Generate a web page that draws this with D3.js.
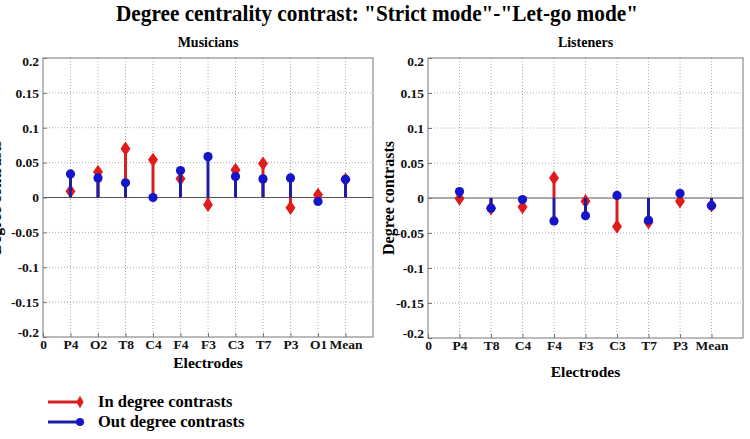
<!DOCTYPE html>
<html>
<head>
<meta charset="utf-8">
<script src="https://cdn.jsdelivr.net/npm/d3@7"></script>
<style>
  body { margin: 0; background: #fff; }
  text { font-family: "Liberation Serif", "Times New Roman", serif; font-weight: bold; }
</style>
</head>
<body>
<svg width="750" height="439"></svg>
<script>
// Data.
const musicianLabels = ["0", "P4", "O2", "T8", "C4", "F4", "F3", "C3", "T7", "P3", "O1", "Mean"];
const musicianIn = [0.009, 0.0367, 0.07, 0.054, 0.027, -0.0105, 0.0395, 0.0486, -0.0148, 0.0038, 0.0254];
const musicianOut = [0.0338, 0.028, 0.021, 0.0, 0.0386, 0.0586, 0.030, 0.0267, 0.028, -0.0057, 0.026];

const listenerLabels = ["0", "P4", "T8", "C4", "F4", "F3", "C3", "T7", "P3", "Mean"];
const listenerIn = [-0.0008, -0.0148, -0.013, 0.0285, -0.0047, -0.0407, -0.0345, -0.0047, -0.0105];
const listenerOut = [0.0093, -0.0145, -0.0023, -0.0327, -0.0252, 0.0037, -0.0318, 0.0065, -0.0109];

const yTicks = [-0.2, -0.15, -0.1, -0.05, 0, 0.05, 0.1, 0.15, 0.2];

const svg = d3.select("svg");
const red = "#e01b1b", blue = "#1414c8";
const redStem = "#d42222", blueStem = "#1c1ca8";

// Title.
svg.append("text")
  .attr("x", 377).attr("y", 21)
  .attr("text-anchor", "middle")
  .attr("font-size", 24)
  .attr("textLength", 522)
  .attr("lengthAdjust", "spacingAndGlyphs")
  .text('Degree centrality contrast: "Strict mode"-"Let-go mode"');

// Draw one stem panel.
function panel(opts) {
  const { left, right, top, bottom, labels, inVals, outVals, title, xLabelY } = opts;
  const n = labels.length;
  const x = d3.scaleLinear().domain([0, n]).range([left, right]);
  const y = d3.scaleLinear().domain([-0.2, 0.2]).range([bottom, top]);
  const g = svg.append("g");

  // Grid.
  g.selectAll("line.vgrid")
    .data(d3.range(1, n))
    .join("line")
    .attr("x1", (d) => x(d)).attr("x2", (d) => x(d))
    .attr("y1", top).attr("y2", bottom)
    .attr("stroke", "#aaa").attr("stroke-width", 1)
    .attr("stroke-dasharray", "1,2");
  g.selectAll("line.hgrid")
    .data(yTicks.filter((t) => t !== 0 && Math.abs(t) < 0.2))
    .join("line")
    .attr("x1", left).attr("x2", right)
    .attr("y1", (d) => y(d)).attr("y2", (d) => y(d))
    .attr("stroke", "#aaa").attr("stroke-width", 1)
    .attr("stroke-dasharray", "1,2");

  // Zero line.
  g.append("line")
    .attr("x1", left).attr("x2", right)
    .attr("y1", y(0)).attr("y2", y(0))
    .attr("stroke", "#555").attr("stroke-width", 1);

  // Axes.
  const yAxis = d3.axisLeft(y).tickValues(yTicks).tickSizeInner(-4).tickSizeOuter(0)
    .tickFormat((d) => (d === 0 ? "0" : String(+d.toFixed(2))));
  g.append("g").attr("transform", `translate(${left},0)`).call(yAxis)
    .call((a) => a.select(".domain").remove())
    .call((a) => a.selectAll(".tick line").attr("stroke", "#777"))
    .call((a) => a.selectAll(".tick text")
      .attr("font-size", 13.5).attr("font-family", null).attr("x", -4).attr("fill", "#111")
      .attr("dy", (d) => (d === -0.2 ? "-0.05em" : d === 0.2 ? "0.55em" : "0.32em")));

  const xAxis = d3.axisBottom(x).tickValues(d3.range(0, n)).tickSizeInner(-4).tickSizeOuter(0)
    .tickFormat((d) => labels[d]);
  g.append("g").attr("transform", `translate(0,${bottom})`).call(xAxis)
    .call((a) => a.select(".domain").remove())
    .call((a) => a.selectAll(".tick line").attr("stroke", "#777"))
    .call((a) => a.selectAll(".tick text")
      .attr("font-size", 13.5).attr("font-family", null).attr("y", 2).attr("fill", "#111"));

  // Box.
  g.append("rect")
    .attr("x", left).attr("y", top)
    .attr("width", right - left).attr("height", bottom - top)
    .attr("fill", "none").attr("stroke", "#777").attr("stroke-width", 1);

  // Red stems + diamonds (drawn first, blue on top).
  const diamond = d3.symbol().type(d3.symbolDiamond).size(60);
  g.selectAll("line.inStem")
    .data(inVals)
    .join("line")
    .attr("x1", (d, i) => x(i + 1)).attr("x2", (d, i) => x(i + 1))
    .attr("y1", y(0)).attr("y2", (d) => y(d))
    .attr("stroke", redStem).attr("stroke-width", 3);
  g.selectAll("path.inMark")
    .data(inVals)
    .join("path")
    .attr("d", diamond)
    .attr("transform", (d, i) => `translate(${x(i + 1)},${y(d)}) scale(1.2,1)`)
    .attr("fill", red);

  g.selectAll("line.outStem")
    .data(outVals)
    .join("line")
    .attr("x1", (d, i) => x(i + 1)).attr("x2", (d, i) => x(i + 1))
    .attr("y1", y(0)).attr("y2", (d) => y(d))
    .attr("stroke", blueStem).attr("stroke-width", 3);
  g.selectAll("circle.outMark")
    .data(outVals)
    .join("circle")
    .attr("cx", (d, i) => x(i + 1)).attr("cy", (d) => y(d))
    .attr("r", 4.6)
    .attr("fill", blue);

  // Titles.
  g.append("text")
    .attr("x", (left + right) / 2).attr("y", top - 11)
    .attr("text-anchor", "middle").attr("font-size", 14)
    .text(title);
  g.append("text")
    .attr("x", (left + right) / 2).attr("y", xLabelY)
    .attr("text-anchor", "middle").attr("font-size", 15.5)
    .text("Electrodes");
  g.append("text")
    .attr("transform", `translate(${opts.yLabelX},${(top + bottom) / 2}) rotate(-90)`)
    .attr("text-anchor", "middle").attr("font-size", 16)
    .text("Degree contrasts");
}

panel({
  left: 43, right: 373, top: 58, bottom: 337,
  labels: musicianLabels, inVals: musicianIn, outVals: musicianOut,
  title: "Musicians", xLabelY: 368, yLabelX: 1
});
panel({
  left: 428, right: 743, top: 58, bottom: 338,
  labels: listenerLabels, inVals: listenerIn, outVals: listenerOut,
  title: "Listeners", xLabelY: 377, yLabelX: 394
});

// Legend.
const legendItems = [
  { label: "In degree contrasts", color: red, stem: redStem, mark: "diamond" },
  { label: "Out degree contrasts", color: blue, stem: blueStem, mark: "circle" }
];
const lg = svg.append("g");
legendItems.forEach((item, i) => {
  const yy = 402 + i * 20;
  lg.append("line")
    .attr("x1", 48).attr("x2", 80).attr("y1", yy).attr("y2", yy)
    .attr("stroke", item.stem).attr("stroke-width", 3);
  if (item.mark === "diamond") {
    lg.append("path")
      .attr("d", d3.symbol().type(d3.symbolDiamond).size(45))
      .attr("transform", `translate(80,${yy})`).attr("fill", item.color);
  } else {
    lg.append("circle").attr("cx", 80).attr("cy", yy).attr("r", 4).attr("fill", item.color);
  }
  lg.append("text")
    .attr("x", 98).attr("y", yy + 5)
    .attr("font-size", 16.5)
    .text(item.label);
});
</script>
</body>
</html>
